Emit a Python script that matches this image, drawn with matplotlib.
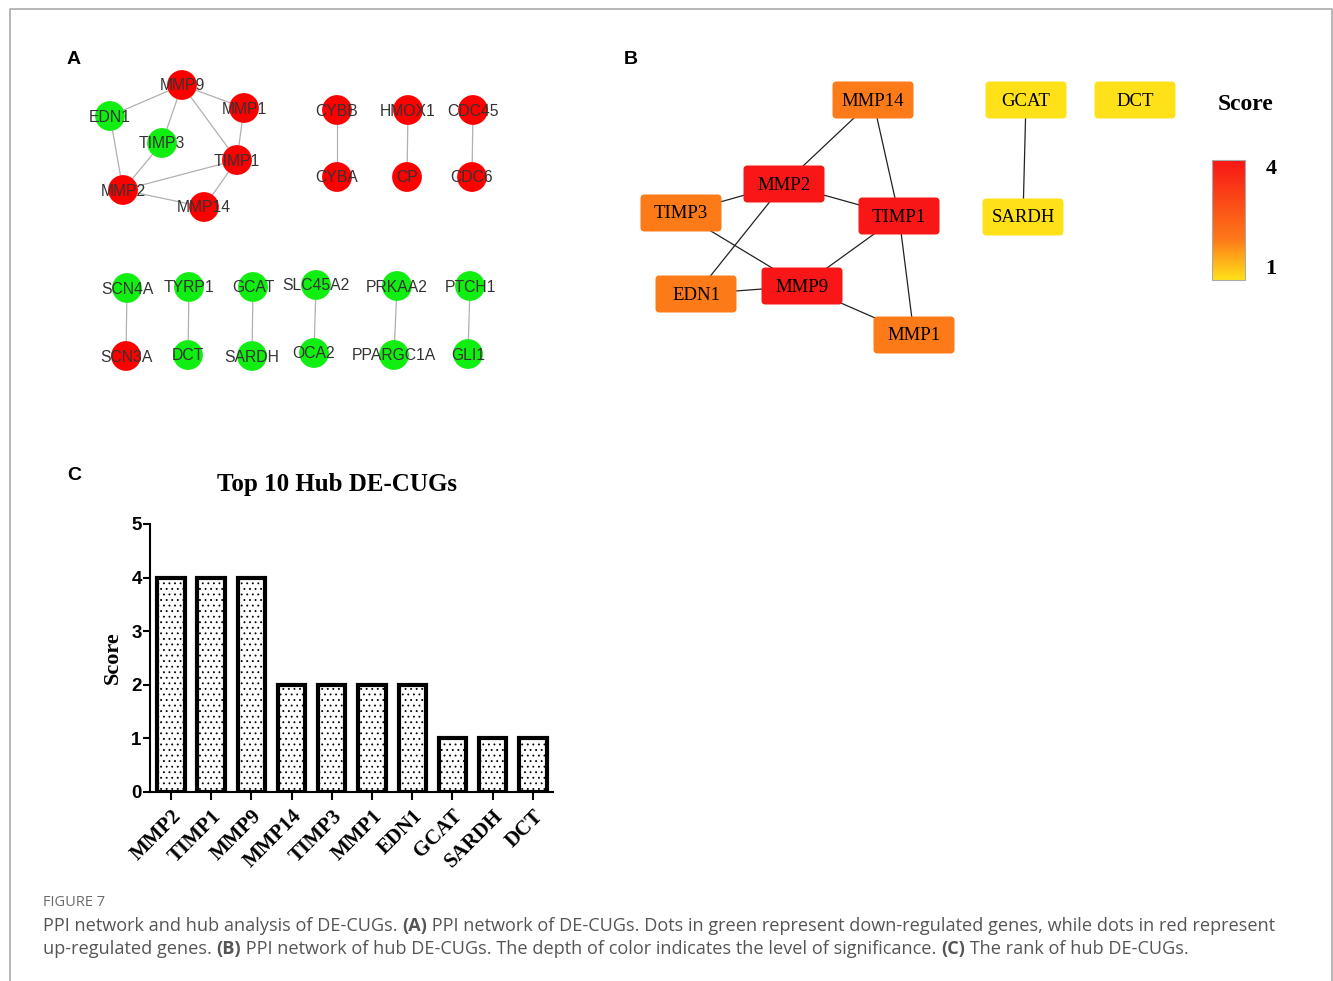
import numpy as np
import matplotlib
matplotlib.use("Agg")
from matplotlib import pyplot as plt
from matplotlib.colors import LinearSegmentedColormap, Normalize
from matplotlib.patches import FancyBboxPatch
from matplotlib.colorbar import ColorbarBase

plt.rcParams['font.family'] = ['Liberation Sans', 'DejaVu Sans']
plt.rcParams['hatch.linewidth'] = 0.6
plt.rcParams['hatch.color'] = '#333333'

# ---- panel A: PPI network of DE-CUGs (positions in pixels of the figure) ----
a_genes = ['MMP9', 'EDN1', 'MMP1', 'TIMP3', 'TIMP1', 'MMP2', 'MMP14',
           'CYBB', 'CYBA', 'HMOX1', 'CP', 'CDC45', 'CDC6',
           'SCN4A', 'SCN3A', 'TYRP1', 'DCT', 'GCAT', 'SARDH',
           'SLC45A2', 'OCA2', 'PRKAA2', 'PPARGC1A', 'PTCH1', 'GLI1']
a_x = [182, 110, 244, 162, 237, 123, 204,
       337, 337, 408, 407, 473, 472,
       127, 126, 189, 188, 253, 252,
       316, 314, 397, 394, 470, 468]
a_y = [85, 116, 108, 143, 160, 190, 207,
       110, 177, 110, 177, 110, 177,
       288, 356, 287, 355, 287, 356,
       285, 353, 286, 355, 286, 354]
# 1 = up-regulated (red), 0 = down-regulated (green)
a_up = [1, 0, 1, 0, 1, 1, 1,
        1, 1, 1, 1, 1, 1,
        0, 1, 0, 0, 0, 0,
        0, 0, 0, 0, 0, 0]
a_edges = [('MMP9', 'EDN1'), ('MMP9', 'MMP1'), ('MMP9', 'TIMP3'), ('MMP9', 'TIMP1'),
           ('MMP1', 'TIMP1'), ('EDN1', 'MMP2'), ('TIMP3', 'MMP2'), ('MMP2', 'TIMP1'),
           ('MMP2', 'MMP14'), ('TIMP1', 'MMP14'), ('CYBB', 'CYBA'), ('HMOX1', 'CP'),
           ('CDC45', 'CDC6'), ('SCN4A', 'SCN3A'), ('TYRP1', 'DCT'), ('GCAT', 'SARDH'),
           ('SLC45A2', 'OCA2'), ('PRKAA2', 'PPARGC1A'), ('PTCH1', 'GLI1')]

# ---- hub genes: scores (panel B colours and panel C bars) ----
hub_genes = ['MMP2', 'TIMP1', 'MMP9', 'MMP14', 'TIMP3', 'MMP1', 'EDN1', 'GCAT', 'SARDH', 'DCT']
hub_scores = [4, 4, 4, 2, 2, 2, 2, 1, 1, 1]
b_x = [784, 899, 802, 873, 681, 914, 696, 1026, 1023, 1135]
b_y = [184, 216, 286, 100, 213, 335, 294, 100, 217, 100]
b_edges = [('MMP14', 'MMP2'), ('MMP14', 'TIMP1'), ('MMP2', 'TIMP3'), ('MMP2', 'TIMP1'),
           ('MMP2', 'EDN1'), ('TIMP3', 'MMP9'), ('TIMP1', 'MMP9'), ('TIMP1', 'MMP1'),
           ('EDN1', 'MMP9'), ('MMP9', 'MMP1'), ('GCAT', 'SARDH')]

W, H = 1333, 981
fig = plt.figure(figsize=(W / 100, H / 100), dpi=100)
bg = fig.add_axes([0, 0, 1, 1])
bg.set_xlim(0, W)
bg.set_ylim(H, 0)
bg.axis('off')

# frame round the figure
bg.plot([10, 10, 1332, 1332], [H, 9, 9, H], color='#aaaaaa', lw=1.2)

# panel letters
for lab, x, y in [('A', 74, 60), ('B', 631, 60), ('C', 74, 476)]:
    bg.text(x, y, lab, fontsize=14, fontweight='bold', ha='center', va='center')

# panel A
pos = {g: (x, y) for g, x, y in zip(a_genes, a_x, a_y)}
for u, v in a_edges:
    bg.plot([pos[u][0], pos[v][0]], [pos[u][1], pos[v][1]], color='#b0b0b0', lw=0.9, zorder=1)
bg.scatter(a_x, a_y, s=460, c=['#ff0000' if up else '#11ee11' for up in a_up],
           edgecolors='none', zorder=2)
for g, x, y in zip(a_genes, a_x, a_y):
    bg.text(x, y + 1, g, fontsize=11.3, color='#333333', ha='center', va='center', zorder=3)

# panel B
cmap = LinearSegmentedColormap.from_list(
    'score', [(0, '#ffe119'), (1 / 3, '#fd7a18'), (1, '#f81616')])
norm = Normalize(1, 4)
bpos = {g: (x, y) for g, x, y in zip(hub_genes, b_x, b_y)}
for u, v in b_edges:
    bg.plot([bpos[u][0], bpos[v][0]], [bpos[u][1], bpos[v][1]], color='#222222', lw=0.9, zorder=1)
bw, bh = 81, 37
for g, x, y, s in zip(hub_genes, b_x, b_y, hub_scores):
    bg.add_patch(FancyBboxPatch((x - bw / 2, y - bh / 2), bw, bh,
                                boxstyle='round,pad=0,rounding_size=4',
                                fc=cmap(norm(s)), ec='none', zorder=2))
    bg.text(x, y + 1, g, fontsize=13.5, family='Liberation Serif', ha='center', va='center', zorder=3)

bg.text(1246, 105, 'Score', fontsize=17, fontweight='bold', family='Liberation Serif',
        ha='center', va='center')
cax = fig.add_axes([1212 / W, 1 - 280 / H, 33 / W, 120 / H])
cb = ColorbarBase(cax, cmap=cmap, norm=norm, orientation='vertical')
cb.set_ticks([])
cb.outline.set_edgecolor('#aaaaaa')
cb.outline.set_linewidth(0.8)
bg.text(1271, 169, '4', fontsize=16, fontweight='bold', family='Liberation Serif', ha='center', va='center')
bg.text(1271, 269, '1', fontsize=16, fontweight='bold', family='Liberation Serif', ha='center', va='center')

# panel C: bar chart
ax = fig.add_axes([150 / W, 1 - 792 / H, 403 / W, 268 / H])
xs = np.arange(len(hub_genes))
ax.bar(xs, hub_scores, width=0.68, color='white', edgecolor='black', lw=3, hatch='...')
ax.set_xlim(-0.52, 9.5)
ax.set_ylim(0, 5)
ax.set_yticks([0, 1, 2, 3, 4, 5])
ax.set_xticks(xs)
ax.set_xticklabels(hub_genes, rotation=45, ha='right', rotation_mode='anchor',
                   fontsize=15, fontweight='bold', family='Liberation Serif')
for t in ax.get_yticklabels():
    t.set_fontsize(13.5)
    t.set_fontweight('bold')
ax.tick_params(axis='y', length=5, width=1.5, pad=1)
ax.tick_params(axis='x', length=6, width=1.5, pad=4)
for side in ['top', 'right']:
    ax.spines[side].set_visible(False)
for side in ['left', 'bottom']:
    ax.spines[side].set_linewidth(1.5)
ax.set_ylabel('Score', fontsize=16, fontweight='bold', family='Liberation Serif', labelpad=6)
bg.text(337, 484, 'Top 10 Hub DE-CUGs', fontsize=18, fontweight='bold',
        family='Liberation Serif', ha='center', va='center')

# caption
bg.text(43, 903, 'FIGURE 7', fontsize=10.5, color='#6a6a6a', family='Open Sans', va='center')
renderer = fig.canvas.get_renderer()


def write_runs(x, y, runs):
    for txt, weight in runs:
        t = bg.text(x, y, txt, fontsize=13.1, color='#555555', family='Open Sans',
                    fontweight=weight, va='center', ha='left')
        x += t.get_window_extent(renderer).width


write_runs(43, 926, [('PPI network and hub analysis of DE-CUGs. ', 'normal'), ('(A)', 'bold'),
                     (' PPI network of DE-CUGs. Dots in green represent down-regulated genes, '
                      'while dots in red represent', 'normal')])
write_runs(43, 949, [('up-regulated genes. ', 'normal'), ('(B)', 'bold'),
                     (' PPI network of hub DE-CUGs. The depth of color indicates the level of '
                      'significance. ', 'normal'), ('(C)', 'bold'),
                     (' The rank of hub DE-CUGs.', 'normal')])

fig.savefig('out.png', dpi=100)
